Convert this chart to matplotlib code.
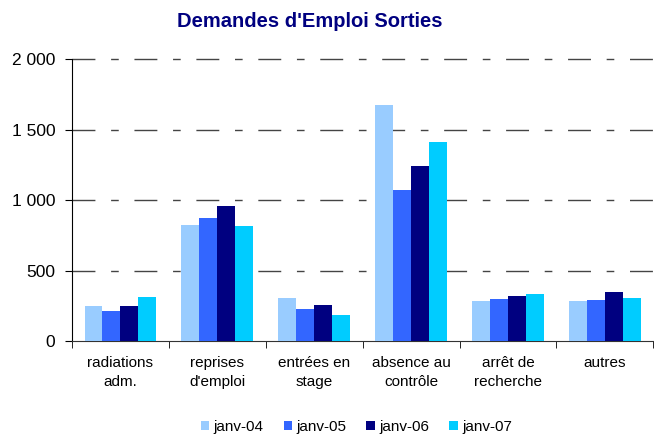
import numpy as np
import matplotlib
matplotlib.use("Agg")
import matplotlib.pyplot as plt
from matplotlib.ticker import FuncFormatter

plt.rcParams['font.family'] = ['Liberation Sans', 'DejaVu Sans']

# categories and series
categories = ["radiations\nadm.", "reprises\nd'emploi", "entrées en\nstage",
              "absence au\ncontrôle", "arrêt de\nrecherche", "autres"]
series_names = ["janv-04", "janv-05", "janv-06", "janv-07"]
janv_04 = [249, 826, 306, 1672, 285, 285]
janv_05 = [213, 875, 228, 1075, 299, 292]
janv_06 = [249, 961, 256, 1245, 320, 349]
janv_07 = [313, 818, 185, 1416, 334, 306]
colors = ["#99CCFF", "#3366FF", "#000080", "#00CCFF"]

fig = plt.figure(figsize=(6.54, 4.36), dpi=100)
ax = fig.add_axes([0.110, 0.218, 0.889, 0.646])

x = np.arange(len(categories))
w = 0.185
for i, (vals, name, col) in enumerate(zip([janv_04, janv_05, janv_06, janv_07],
                                          series_names, colors)):
    ax.bar(x + (i - 1.5) * w, vals, width=w, color=col, label=name, zorder=3)

ax.set_xlim(-0.5, len(categories) - 0.5)
ax.set_ylim(0, 2000)
ax.set_yticks([0, 500, 1000, 1500, 2000])
ax.yaxis.set_major_formatter(FuncFormatter(lambda v, p: f"{v:,.0f}".replace(",", " ")))

# dashed gridlines (long-short pattern)
for yv in [500, 1000, 1500, 2000]:
    ax.axhline(yv, color="#444444", lw=1.0, zorder=1,
               linestyle=(0, (16.5, 11.3, 5.5, 11.3)), clip_on=False)

for s in ["top", "right"]:
    ax.spines[s].set_visible(False)
ax.spines["left"].set_color("black")
ax.spines["bottom"].set_color("#333333")

# category labels centred, ticks at the boundaries
ax.set_xticks(x)
ax.set_xticklabels(categories, fontsize=11, linespacing=1.45)
ax.tick_params(axis="x", length=0, pad=11)
ax.set_xticks(np.arange(-0.5, len(categories), 1.0), minor=True)
ax.tick_params(axis="x", which="minor", length=5, direction="out")
ax.tick_params(axis="y", length=5, pad=7, labelsize=12.5)

fig.text(0.474, 0.951, "Demandes d'Emploi Sorties", ha="center", va="center",
         fontsize=14.5, fontweight="bold", color="#000080")

fig.legend(loc="center", bbox_to_anchor=(0.545, 0.02), ncol=4, frameon=False,
           fontsize=11, handlelength=0.55, handleheight=0.55, handletextpad=0.3,
           columnspacing=1.3)

fig.savefig("out.png", dpi=100)
